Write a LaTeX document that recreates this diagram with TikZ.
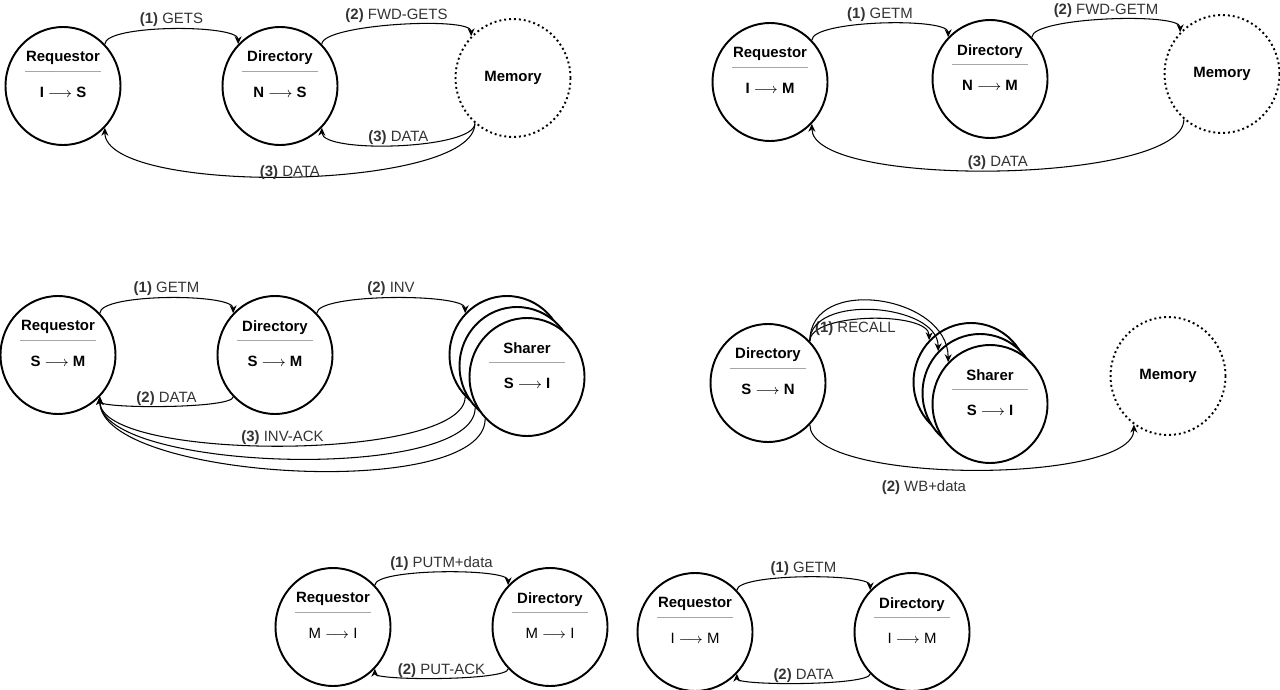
\documentclass[tikz,border=0pt]{standalone}
\usepackage{fontspec}
\setmainfont{Liberation Sans}
\usepackage{xcolor}
\usetikzlibrary{
	shapes.geometric,
	arrows.meta,
	positioning,
	calc
}

\definecolor{rulegray}{HTML}{A6A6A6}
\definecolor{labelgray}{HTML}{333333}

% title, gray separator, state change
\newcommand{\agenttext}[2]{%
	\raisebox{6.6pt}[\height][\depth]{\parbox{1.6cm}{\centering
		\textbf{#1}\\[-4.5pt]
		{\color{rulegray}\rule{1.52cm}{0.6pt}}\\[4.3pt]
		#2}}}

\begin{document}
\begin{tikzpicture}[
				x=0.02cm, y=-0.02cm,
				agent/.style={
					ellipse, draw, line width=1.1pt, fill=white,
					inner sep=0pt, minimum width=2.3cm, minimum height=2.36cm,
					font=\fontsize{8.5}{10.2}\selectfont
				},
				memory/.style={
					agent, dash pattern=on 1.1pt off 1.7pt
				},
				msg/.style={-{Stealth[length=4.5pt,width=4pt]}, line width=0.6pt},
				lbl/.style={font=\fontsize{8.5}{10.2}\selectfont, text=labelgray, inner sep=1pt},
				lblback/.style={lbl, pos=0.5, above=-1pt}
				]
				\useasboundingbox (0,0) rectangle (1280,689);
				
				% GETS from I
				\node[agent] (req1) at (63,86) {\agenttext{Requestor}{\textbf{I $\longrightarrow$ S}}};
				\node[agent] (dir1) at (280,86) {\agenttext{Directory}{\textbf{N $\longrightarrow$ S}}};
				\node[memory] (mem1) at (513,78) {\textbf{Memory}};
				
				\draw[msg] (req1.45) .. controls +(0,-20) and +(0,-20) .. (dir1.135) node[lbl, pos=0.5, above] {\textbf{(1)} GETS};
				\draw[msg] (dir1.45) .. controls +(0,-20) and +(0,-20) .. (mem1.135) node[lbl, pos=0.5, above] {\textbf{(2)} FWD-GETS};
				\draw[msg] (mem1.-130) .. controls +(0,26) and +(0,26) .. (dir1.-45) node[lblback] {\textbf{(3)} DATA};
				\draw[msg] (mem1.-130) .. controls +(0,68) and +(0,68) .. (req1.-45) node[lbl, pos=0.5, above=-3pt] {\textbf{(3)} DATA};
				
				% GETM from I
				\node[agent] (req2) at (770,82) {\agenttext{Requestor}{\textbf{I $\longrightarrow$ M}}};
				\node[agent] (dir2) at (990,79) {\agenttext{Directory}{\textbf{N $\longrightarrow$ M}}};
				\node[memory] (mem2) at (1222,74) {\textbf{Memory}};
				
				\draw[msg] (req2.45) .. controls +(0,-20) and +(0,-20) .. (dir2.135) node[lbl, pos=0.5, above] {\textbf{(1)} GETM};
				\draw[msg] (dir2.45) .. controls +(0,-20) and +(0,-20) .. (mem2.135) node[lbl, pos=0.5, above] {\textbf{(2)} FWD-GETM};
				\draw[msg] (mem2.-130) .. controls +(0,65) and +(0,65) .. (req2.-45) node[lblback] {\textbf{(3)} DATA};
				
				% GETM from S
				\node[agent] (req3) at (58,355) {\agenttext{Requestor}{\textbf{S $\longrightarrow$ M}}};
				\node[agent] (dir3) at (275,355) {\agenttext{Directory}{\textbf{S $\longrightarrow$ M}}};
				\node[agent] (shrA) at (507,355) {};
				\node[agent] (shrB) at (517,366) {};
				\node[agent] (shrC) at (527,377) {\agenttext{Sharer}{\textbf{S $\longrightarrow$ I}}};
				
				\draw[msg] (req3.45) .. controls +(0,-20) and +(0,-20) .. (dir3.135) node[lbl, pos=0.5, above] {\textbf{(1)} GETM};
				\draw[msg] (dir3.45) .. controls +(0,-20) and +(0,-20) .. (shrA.135) node[lbl, pos=0.5, above] {\textbf{(2)} INV};
				\draw[msg] (dir3.-135) .. controls +(0,12) and +(0,12) .. (req3.-45) node[lblback] {\textbf{(2)} DATA};
				\draw[msg] (shrA.-135) .. controls +(0,65) and +(0,65) .. (req3.-45) node[lblback] {\textbf{(3)} INV-ACK};
				\draw[msg] (shrB.-135) .. controls +(0,75) and +(0,75) .. (req3.-45);
				\draw[msg] (shrC.-135) .. controls +(0,83) and +(0,83) .. (req3.-45);
				
				% recall
				\node[agent] (dir4) at (768,383) {\agenttext{Directory}{\textbf{S $\longrightarrow$ N}}};
				\node[agent] (shrD) at (971,382) {};
				\node[agent] (shrE) at (980,393) {};
				\node[agent] (shrF) at (990,404) {\agenttext{Sharer}{\textbf{S $\longrightarrow$ I}}};
				\node[memory] (mem4) at (1168,376) {\textbf{Memory}};
				
				\draw[msg] (dir4.45) .. controls +(0,-29) and +(0,-29) .. (shrD.135) node[lbl, pos=0.42, below] {\textbf{(1)} RECALL};
				\draw[msg] (dir4.45) .. controls +(0,-48) and +(0,-48) .. (shrE.135);
				\draw[msg] (dir4.45) .. controls +(0,-67) and +(0,-67) .. (shrF.135);
				\draw[msg] (dir4.-45) .. controls +(0,60) and +(0,60) .. (mem4.-125) node[lbl, pos=0.4, below=6pt] {\textbf{(2)} WB+data};
				
				% PUTM
				\node[agent] (req5) at (333,627) {\agenttext{Requestor}{M $\longrightarrow$ I}};
				\node[agent] (dir5) at (550,627) {\agenttext{Directory}{M $\longrightarrow$ I}};
				
				\draw[msg] (req5.45) .. controls +(0,-17) and +(0,-17) .. (dir5.135) node[lbl, pos=0.5, above] {\textbf{(1)} PUTM+data};
				\draw[msg] (dir5.-135) .. controls +(0,12) and +(0,12) .. (req5.-45) node[lblback] {\textbf{(2)} PUT-ACK};
				
				% GETM from I, no memory
				\node[agent] (req6) at (695,632) {\agenttext{Requestor}{I $\longrightarrow$ M}};
				\node[agent] (dir6) at (912,632) {\agenttext{Directory}{I $\longrightarrow$ M}};
				
				\draw[msg] (req6.45) .. controls +(0,-17) and +(0,-17) .. (dir6.135) node[lbl, pos=0.5, above] {\textbf{(1)} GETM};
				\draw[msg] (dir6.-135) .. controls +(0,12) and +(0,12) .. (req6.-45) node[lblback] {\textbf{(2)} DATA};
			\end{tikzpicture}
\end{document}
